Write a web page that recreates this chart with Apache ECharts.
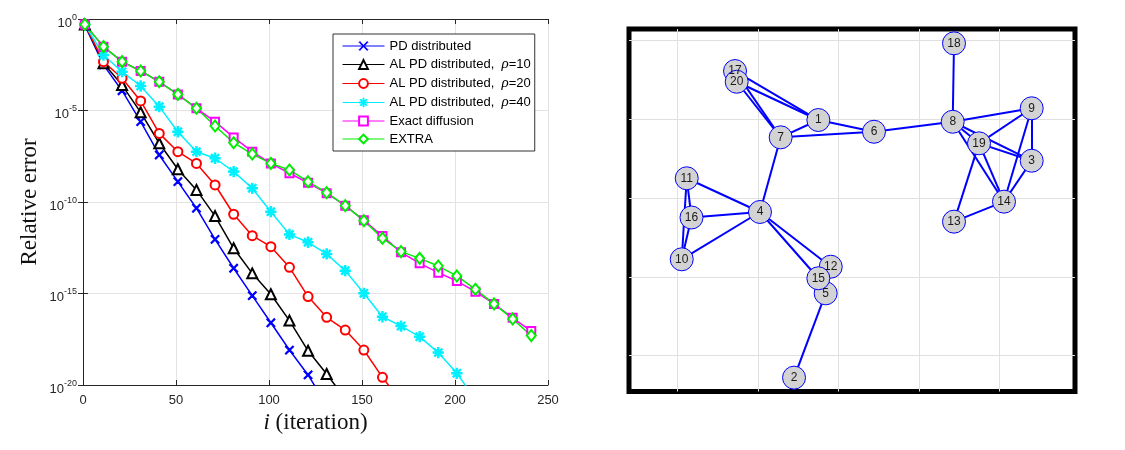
<!DOCTYPE html>
<html>
<head>
<meta charset="utf-8">
<script src="https://cdn.jsdelivr.net/npm/echarts@6/dist/echarts.min.js"></script>
<style>
html,body{margin:0;padding:0;background:#fff;}
#c{width:1125px;height:450px;}
</style>
</head>
<body>
<div id="c"></div>
<script>
// ---------- Left plot data (log10 of relative error) ----------
var iterations = [1,11,21,31,41,51,61,71,81,91,101,111,121,131,141,151,161,171,181,191,201,211,221,231,241];
var pdDistributedLog = [-0.35,-2.51,-3.92,-5.61,-7.43,-8.89,-10.34,-12.04,-13.62,-15.12,-16.6,-18.09,-19.45,-21.1];
var alRho10Log = [-0.3,-2.42,-3.61,-5.1,-6.79,-8.21,-9.34,-10.77,-12.53,-13.9,-15.04,-16.48,-18.13,-19.4,-20.75];
var alRho20Log = [-0.3,-2.33,-3.24,-4.48,-6.25,-7.25,-7.89,-9.07,-10.67,-11.84,-12.44,-13.57,-15.17,-16.3,-17.0,-18.09,-19.58,-20.9];
var alRho40Log = [-0.3,-1.97,-2.88,-3.66,-4.79,-6.16,-7.25,-7.61,-8.34,-9.25,-10.53,-11.77,-12.2,-12.84,-13.75,-14.99,-16.27,-16.78,-17.36,-18.23,-19.36,-20.8];
var exactDiffusionLog = [-0.3,-1.51,-2.33,-2.84,-3.43,-4.12,-4.88,-5.61,-6.47,-7.25,-7.89,-8.43,-8.95,-9.52,-10.2,-11.0,-11.86,-12.75,-13.35,-13.86,-14.32,-14.9,-15.57,-16.33,-17.05];
var extraLog = [-0.3,-1.51,-2.33,-2.84,-3.43,-4.12,-4.88,-5.85,-6.76,-7.38,-7.89,-8.25,-8.89,-9.49,-10.2,-11.02,-11.98,-12.71,-13.08,-13.5,-14.04,-14.77,-15.57,-16.39,-17.3];
var seriesNames = ['PD distributed','AL PD distributed,  ρ=10','AL PD distributed,  ρ=20','AL PD distributed,  ρ=40','Exact diffusion','EXTRA'];
var xTicks = [0,50,100,150,200,250];

// ---------- Right plot data (network graph) ----------
var nodeNames = ['1','2','3','4','5','6','7','8','9','10','11','12','13','14','15','16','17','18','19','20'];
var nodeX = [1.752,1.450,4.402,1.027,1.843,2.443,1.284,3.421,4.402,0.055,0.117,1.906,3.437,4.058,1.752,0.176,0.717,3.437,3.748,0.738];
var nodeY = [2.993,-0.279,2.476,1.825,0.792,2.844,2.773,2.971,3.142,1.224,2.253,1.130,1.702,1.956,0.983,1.755,3.615,3.967,2.697,3.479];
var edges = [
  ['17','1'],['20','1'],['17','7'],['20','7'],['1','7'],['1','6'],['7','6'],['7','4'],
  ['6','8'],['8','18'],['8','9'],['8','19'],['8','3'],['8','14'],
  ['19','9'],['19','3'],['19','14'],['19','13'],['9','3'],['9','14'],['3','14'],['13','14'],
  ['11','4'],['11','16'],['11','10'],['16','4'],['16','10'],['10','4'],
  ['4','12'],['4','15'],['5','2'],['12','15'],['15','5'],['12','5']
];

function toPairs(logs){
  var out = [];
  for (var k = 0; k < logs.length; k++) out.push([iterations[k], Math.pow(10, logs[k])]);
  return out;
}

var FONT = "'Liberation Sans', Arial, Helvetica, sans-serif";
var SERIF = "'Liberation Serif', 'Times New Roman', serif";
var AX = '#262626';
var GRID = '#e3e3e3';

var crossPath = 'path://M0,0.8L0.8,0L5,4.2L9.2,0L10,0.8L5.8,5L10,9.2L9.2,10L5,5.8L0.8,10L0,9.2L4.2,5Z';
var starPath = 'path://M4.4,0L5.6,0L5.6,10L4.4,10Z M0,4.4L10,4.4L10,5.6L0,5.6Z M1,1.8L1.8,1L9,8.2L8.2,9Z M8.2,1L9,1.8L1.8,9L1,8.2Z';

var styles = [
  {c:'#0000ff', sym:crossPath, size:8},
  {c:'#000000', sym:'emptyTriangle', size:10},
  {c:'#ff0000', sym:'emptyCircle', size:9},
  {c:'#00f0ff', sym:starPath, size:10},
  {c:'#ff00ff', sym:'emptyRect', size:8},
  {c:'#00ee00', sym:'emptyDiamond', size:[9,11]}
];
var allLogs = [pdDistributedLog, alRho10Log, alRho20Log, alRho40Log, exactDiffusionLog, extraLog];

var lineSeries = allLogs.map(function(lg, k){
  var s = styles[k];
  return {
    type:'line', name: seriesNames[k], xAxisIndex:0, yAxisIndex:0,
    data: toPairs(lg), symbol: s.sym, symbolSize: s.size, showAllSymbol:true,
    clip:true, smooth:false,
    lineStyle:{color:s.c, width:1.5},
    itemStyle:{color:s.c, borderColor:s.c, borderWidth:1.3},
    emphasis:{disabled:true}
  };
});

var nodes = nodeNames.map(function(n, k){ return {name:n, value:[nodeX[k], nodeY[k]]}; });
var links = edges.map(function(e){ return {source:e[0], target:e[1]}; });

var graphSeries = {
  type:'graph', coordinateSystem:'cartesian2d', xAxisIndex:2, yAxisIndex:2,
  data: nodes, links: links, symbol:'circle', symbolSize:23,
  itemStyle:{color:'#d3d3d3', borderColor:'#0000ff', borderWidth:1},
  lineStyle:{color:'#0000ff', width:2, opacity:1, curveness:0},
  label:{show:true, position:'inside', formatter:'{b}', fontFamily:FONT, fontSize:12, color:'#1a1a1a'},
  emphasis:{disabled:true}, roam:false
};

var chart = echarts.init(document.getElementById('c'), null, {renderer:'canvas'});
chart.setOption({
  animation:false,
  backgroundColor:'#ffffff',
  grid:[
    {left:83, right:577, top:19, bottom:65, show:false},
    {left:629, right:50, top:29, bottom:58.5, show:true, borderColor:'#000', borderWidth:5, backgroundColor:'#fff'}
  ],
  legend:{
    left:333, top:34, orient:'vertical', itemWidth:42, itemHeight:11, itemGap:4,
    padding:[5,4,5,9], backgroundColor:'#fff', borderColor:'#333', borderWidth:1,
    data: seriesNames,
    lineStyle:{width:1},
    itemStyle:{borderWidth:1},
    formatter:function(n){ return n.replace('ρ', '{r|ρ}'); },
    textStyle:{fontFamily:FONT, fontSize:13, lineHeight:14, color:'#000',
      rich:{r:{fontFamily:SERIF, fontStyle:'italic', fontSize:15, lineHeight:14, color:'#000'}}}
  },
  xAxis:[
    {gridIndex:0, type:'value', min:0, max:250, interval:50, position:'bottom',
     axisLine:{show:true, lineStyle:{color:AX, width:1}},
     axisTick:{show:true, inside:true, length:5, lineStyle:{color:AX}},
     axisLabel:{fontFamily:FONT, fontSize:13, color:AX, margin:9},
     splitLine:{show:true, lineStyle:{color:GRID, width:1}},
     name:'{it|i} (iteration)', nameLocation:'middle', nameGap:24,
     nameTextStyle:{fontFamily:SERIF, fontSize:23, color:'#111', rich:{it:{fontFamily:SERIF, fontStyle:'italic', fontSize:23, color:'#111'}}}
    },
    {gridIndex:0, type:'value', min:0, max:250, interval:50, position:'top',
     axisLine:{show:true, lineStyle:{color:AX, width:1}},
     axisTick:{show:true, inside:true, length:5, lineStyle:{color:AX}},
     axisLabel:{show:false}, splitLine:{show:false}},
    {gridIndex:1, type:'value', min:-0.6, max:4.94, splitNumber:5,
     axisLine:{show:false}, axisTick:{show:false}, axisLabel:{show:false},
     splitLine:{show:true, showMinLine:false, showMaxLine:false, lineStyle:{color:'#e0e0e0', width:1}}}
  ],
  yAxis:[
    {gridIndex:0, type:'log', logBase:10, min:1e-20, max:1, interval:5, position:'left',
     axisLine:{show:true, lineStyle:{color:AX, width:1}},
     axisTick:{show:true, inside:true, length:5, lineStyle:{color:AX}},
     axisLabel:{margin:6, color:AX, fontFamily:FONT,
       formatter:function(v){ var e = Math.round(Math.log(v)/Math.LN10); return '{b|10}{s|' + e + '}'; },
       rich:{b:{fontFamily:FONT, fontSize:13, color:AX, lineHeight:21, verticalAlign:'bottom'},
             s:{fontFamily:FONT, fontSize:9, color:AX, padding:[0,0,3,0], verticalAlign:'middle'}}},
     splitLine:{show:true, lineStyle:{color:GRID, width:1}},
     name:'Relative error', nameLocation:'middle', nameGap:42,
     nameTextStyle:{fontFamily:SERIF, fontSize:23, color:'#111'}
    },
    {gridIndex:0, type:'log', logBase:10, min:1e-20, max:1, interval:5, position:'right',
     axisLine:{show:true, lineStyle:{color:AX, width:1}},
     axisTick:{show:true, inside:true, length:5, lineStyle:{color:AX}},
     axisLabel:{show:false}, splitLine:{show:false}},
    {gridIndex:1, type:'value', min:-0.455, max:4.149, splitNumber:5,
     axisLine:{show:false}, axisTick:{show:false}, axisLabel:{show:false},
     splitLine:{show:true, showMinLine:false, showMaxLine:false, lineStyle:{color:'#e0e0e0', width:1}}}
  ],
  series: lineSeries.concat([graphSeries])
});
</script>
</body>
</html>
